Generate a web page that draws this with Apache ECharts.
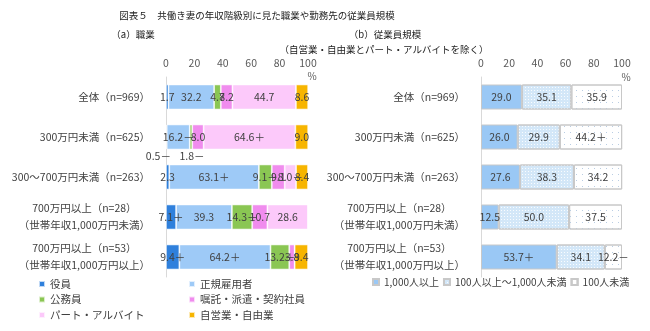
<!DOCTYPE html>
<html>
<head>
<meta charset="utf-8">
<script src="https://cdn.jsdelivr.net/npm/echarts@6/dist/echarts.min.js"></script>
<style>
  html, body { margin: 0; padding: 0; background: #fff; }
  #chart { width: 650px; height: 331px; }
</style>
</head>
<body>
<div id="chart"></div>
<script>
// Row categories (shared by both panels)
const categories = [
  '全体（n=969）',
  '300万円未満（n=625）',
  '300～700万円未満（n=263）',
  '700万円以上（n=28）\n（世帯年収1,000万円未満）',
  '700万円以上（n=53）\n（世帯年収1,000万円以上）'
];
const ticks = [0, 20, 40, 60, 80, 100];

// (a) 職業
const occNames = ['役員', '正規雇用者', '公務員', '嘱託・派遣・契約社員', 'パート・アルバイト', '自営業・自由業'];
const occExec     = [1.7, 0.5, 2.3, 7.1, 9.4];
const occRegular  = [32.2, 16.2, 63.1, 39.3, 64.2];
const occPublic   = [4.7, 1.8, 9.1, 14.3, 13.2];
const occContract = [8.2, 8.0, 9.1, 10.7, 3.8];
const occPart     = [44.7, 64.6, 8.0, 28.6, 0];
const occSelf     = [8.6, 9.0, 8.4, 0, 9.4];
// significance markers appended to the value labels
const occExecMark     = ['', '－', '', '＋', '＋'];
const occRegularMark  = ['', '－', '＋', '', '＋'];
const occPublicMark   = ['', '－', '＋', '＋', '＋'];
const occContractMark = ['', '', '', '', ''];
const occPartMark     = ['', '＋', '－', '', ''];
const occSelfMark     = ['', '', '', '', ''];

// (b) 従業員規模
const sizeNames = ['1,000人以上', '100人以上～1,000人未満', '100人未満'];
const sizeLarge  = [29.0, 26.0, 27.6, 12.5, 53.7];
const sizeMid    = [35.1, 29.9, 38.3, 50.0, 34.1];
const sizeSmall  = [35.9, 44.2, 34.2, 37.5, 12.2];
const sizeLargeMark = ['', '', '', '', '＋'];
const sizeMidMark   = ['', '', '', '', ''];
const sizeSmallMark = ['', '＋', '', '', '－'];

const FONT = '"Noto Sans CJK JP", "Noto Sans", sans-serif';
const TXT = '#404040';

function catFormatter(v) {
  if (v.indexOf('\n') < 0) return v;
  return v.split('\n').map(s => '{c|' + s + '}').join('\n');
}

function labelFn(values, marks) {
  return function (p) {
    const v = values[p.dataIndex];
    return v ? v.toFixed(1) + marks[p.dataIndex] : '';
  };
}

function makeData(values, special) {
  return values.map((v, i) => {
    const item = { value: v };
    if (special && special[i]) item.label = special[i];
    return item;
  });
}

function barSeries(name, values, marks, color, axisIdx, extra) {
  return {
    name: name,
    type: 'bar',
    stack: 'p' + axisIdx,
    xAxisIndex: axisIdx,
    yAxisIndex: axisIdx,
    barWidth: 25,
    data: makeData(values, extra && extra.special),
    itemStyle: Object.assign({ color: color }, (extra && extra.itemStyle) || {}),
    label: {
      show: true,
      position: 'inside',
      formatter: labelFn(values, marks),
      color: TXT,
      fontSize: 10.5,
      fontFamily: FONT
    },
    emphasis: { disabled: true }
  };
}

const leftBorder = { borderColor: 'rgba(255,255,255,0.7)', borderWidth: 0.8 };
const belowLeft = { position: 'bottom', distance: 1, offset: [-8, 0] };
const belowMid  = { position: 'bottom', distance: 1, offset: [1, 0] };

const rightBorder = { borderColor: '#c8c8c8', borderWidth: 1 };

const series = [
  barSeries(occNames[0], occExec, occExecMark, '#2f80dc', 0, { itemStyle: leftBorder, special: [null, belowLeft] }),
  barSeries(occNames[1], occRegular, occRegularMark, '#9ecaf7', 0, { itemStyle: leftBorder }),
  barSeries(occNames[2], occPublic, occPublicMark, '#8ac653', 0, { itemStyle: leftBorder, special: [null, belowMid] }),
  barSeries(occNames[3], occContract, occContractMark, '#f08cee', 0, { itemStyle: leftBorder }),
  barSeries(occNames[4], occPart, occPartMark, '#fcc9fa', 0, { itemStyle: leftBorder }),
  barSeries(occNames[5], occSelf, occSelfMark, '#f7b500', 0, { itemStyle: leftBorder }),
  barSeries(sizeNames[0], sizeLarge, sizeLargeMark, '#9ac8f5', 1, { itemStyle: rightBorder }),
  barSeries(sizeNames[1], sizeMid, sizeMidMark, '#d3e7f8', 1, {
    itemStyle: Object.assign({
      decal: { symbol: 'rect', symbolSize: 1, dashArrayX: [1, 2], dashArrayY: [1, 2], color: 'rgba(255,255,255,0.85)' }
    }, rightBorder)
  }),
  barSeries(sizeNames[2], sizeSmall, sizeSmallMark, '#ffffff', 1, {
    itemStyle: Object.assign({
      decal: { symbol: 'rect', symbolSize: 1, dashArrayX: [1, 5], dashArrayY: [1, 5], color: '#b9cde3' }
    }, rightBorder)
  })
];

function valueAxis(gridIndex) {
  return {
    type: 'value',
    gridIndex: gridIndex,
    position: 'top',
    min: ticks[0],
    max: ticks[ticks.length - 1],
    interval: ticks[1] - ticks[0],
    axisLine: { show: false },
    axisTick: { show: false },
    splitLine: { show: false },
    axisLabel: { color: '#595959', fontSize: 10.5, fontFamily: FONT, margin: 9 }
  };
}

function categoryAxis(gridIndex) {
  return {
    type: 'category',
    gridIndex: gridIndex,
    inverse: true,
    data: categories,
    axisLine: { show: true, lineStyle: { color: '#d9d9d9', width: 1 } },
    axisTick: { show: false },
    axisLabel: {
      color: TXT,
      fontSize: 10.5,
      fontFamily: FONT,
      margin: 16,
      lineHeight: 17,
      formatter: catFormatter,
      rich: { c: { align: 'center', color: TXT, fontSize: 10.5, fontFamily: FONT, lineHeight: 17 } }
    }
  };
}

const legendText = { color: TXT, fontSize: 10.5, fontFamily: FONT, lineHeight: 12 };

const option = {
  animation: false,
  backgroundColor: '#ffffff',
  textStyle: { fontFamily: FONT },
  grid: [
    { left: 166, right: 342, top: 77, height: 200 },
    { left: 481, right: 28, top: 77, height: 200 }
  ],
  xAxis: [valueAxis(0), valueAxis(1)],
  yAxis: [categoryAxis(0), categoryAxis(1)],
  legend: [
    {
      data: [occNames[0], occNames[2], occNames[4]],
      orient: 'vertical', left: 33, top: 273, itemGap: 3.5,
      itemWidth: 6, itemHeight: 6, icon: 'rect', selectedMode: false,
      textStyle: legendText
    },
    {
      data: [occNames[1], occNames[3], occNames[5]],
      orient: 'vertical', left: 183, top: 273, itemGap: 3.5,
      itemWidth: 6, itemHeight: 6, icon: 'rect', selectedMode: false,
      textStyle: legendText
    },
    {
      data: sizeNames,
      orient: 'horizontal', left: 367, top: 271, itemGap: 4,
      itemWidth: 6, itemHeight: 6, icon: 'rect', selectedMode: false,
      textStyle: { color: TXT, fontSize: 10, fontFamily: FONT, lineHeight: 12 }
    }
  ],
  graphic: [
    { type: 'text', x: 257, y: 15, style: { text: '図表５　共働き妻の年収階級別に見た職業や勤務先の従業員規模', font: '9.5px ' + FONT, fill: '#222', textAlign: 'center', textVerticalAlign: 'middle' } },
    { type: 'text', x: 133, y: 34, style: { text: '（a）職業', font: '9.5px ' + FONT, fill: '#222', textAlign: 'center', textVerticalAlign: 'middle' } },
    { type: 'text', x: 385, y: 34, style: { text: '（b）従業員規模', font: '9.5px ' + FONT, fill: '#222', textAlign: 'center', textVerticalAlign: 'middle' } },
    { type: 'text', x: 384, y: 49, style: { text: '（自営業・自由業とパート・アルバイトを除く）', font: '9.5px ' + FONT, fill: '#222', textAlign: 'center', textVerticalAlign: 'middle' } },
    { type: 'text', x: 312, y: 76, style: { text: '%', font: '10px ' + FONT, fill: '#595959', textAlign: 'center', textVerticalAlign: 'middle' } },
    { type: 'text', x: 626, y: 77, style: { text: '%', font: '10px ' + FONT, fill: '#595959', textAlign: 'center', textVerticalAlign: 'middle' } }
  ],
  series: series
};

const chart = echarts.init(document.getElementById('chart'), null, { renderer: 'canvas' });
chart.setOption(option);
</script>
</body>
</html>
